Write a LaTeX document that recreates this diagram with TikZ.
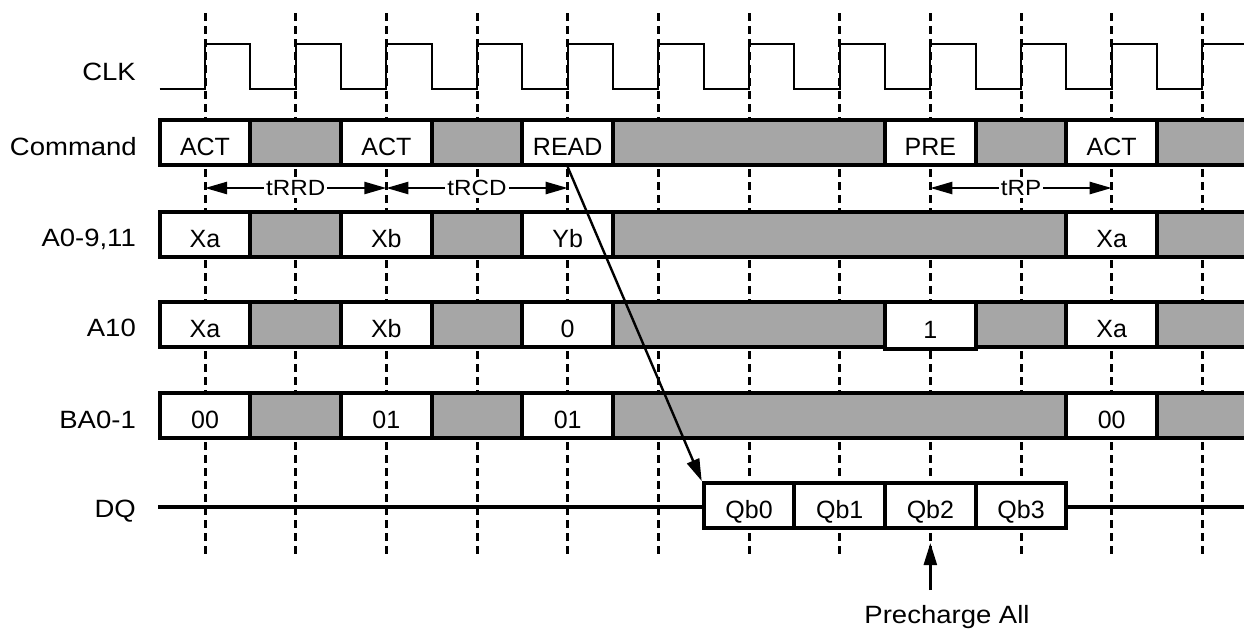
\documentclass[tikz,border=0pt]{standalone}
\usepackage{fontspec}
\setmainfont{Liberation Sans}
\newfontfamily\widefont{Liberation Sans}[FakeStretch=1.1]
\usetikzlibrary{arrows.meta}
\definecolor{cellgray}{RGB}{166,166,166}
\begin{document}
\begin{tikzpicture}[x=1pt,y=-1pt,
  gridline/.style={line width=3pt, dash pattern=on 8pt off 5pt},
  clkline/.style={line width=2pt},
  dqline/.style={line width=3.2pt},
  cellbox/.style={draw=black, line width=4pt, minimum height=45pt, inner sep=0pt,
    font=\fontsize{25}{30}\selectfont, text height=27pt, text depth=1pt},
  sig/.style={inner sep=0pt, anchor=base east, font=\widefont\fontsize{25}{30}\selectfont},
  dimarrow/.style={line width=2.4pt, {Triangle[length=22pt,width=12pt]}-{Triangle[length=22pt,width=12pt]}},
  dimlabel/.style={fill=white, inner sep=2pt, font=\widefont\fontsize{22}{26}\selectfont},
  cmdarrow/.style={line width=2.4pt, -{Triangle[length=22pt,width=13pt]}}
]
\useasboundingbox (0,0) rectangle (1244,630);

% clock-edge grid
\foreach \i in {0,...,11}
  \draw[gridline] (205+90.67*\i,13) -- (205+90.67*\i,556);

% clock waveform
\draw[clkline] (159.67,89)
  \foreach \i in {0,...,11}{ -- (205+90.67*\i,89) -- (205+90.67*\i,44)
     -- (250.33+90.67*\i,44) -- (250.33+90.67*\i,89) };

% DQ line
\coordinate (dqa) at (158,507);
\coordinate (dqb) at (1252,507);
\draw[dqline] (dqa) -- (dqb);

% signal labels
\node[sig] (lclk) at (136,80) {CLK};
\node[sig] (lcmd) at (137,155) {Command};
\node[sig] (ladr) at (136,246.5) {A0-9,11};
\node[sig] (la10) at (136,336.5) {A10};
\node[sig] (lba)  at (136,428) {BA0-1};
\node[sig] (ldq)  at (136,517) {DQ};

% Command row
\foreach \a/\b/\t/\f/\n in {0/1/ACT/white/cmdA, 1/2//cellgray/cmdB, 2/3/ACT/white/cmdC,
   3/4//cellgray/cmdD, 4/5/READ/white/read, 5/8//cellgray/cmdF, 8/9/PRE/white/cmdG,
   9/10//cellgray/cmdH, 10/11/ACT/white/cmdI, 11/12//cellgray/cmdJ}{
  \pgfmathsetmacro\cx{159.67+90.67*(\a+\b)/2}
  \pgfmathsetmacro\w{90.67*(\b-\a)}
  \node[cellbox, fill=\f, minimum width=\w pt] (\n) at (\cx,142.5) {\t};
}
% A0-9,11 row
\foreach \a/\b/\t/\f/\n in {0/1/Xa/white/adrA, 1/2//cellgray/adrB, 2/3/Xb/white/adrC,
   3/4//cellgray/adrD, 4/5/Yb/white/adrE, 5/10//cellgray/adrF,
   10/11/Xa/white/adrG, 11/12//cellgray/adrH}{
  \pgfmathsetmacro\cx{159.67+90.67*(\a+\b)/2}
  \pgfmathsetmacro\w{90.67*(\b-\a)}
  \node[cellbox, fill=\f, minimum width=\w pt] (\n) at (\cx,234.5) {\t};
}
% A10 row
\foreach \a/\b/\t/\f/\n in {0/1/Xa/white/tenA, 1/2//cellgray/tenB, 2/3/Xb/white/tenC,
   3/4//cellgray/tenD, 4/5/0/white/tenE, 5/8//cellgray/tenF,
   9/10//cellgray/tenH, 10/11/Xa/white/tenI, 11/12//cellgray/tenJ}{
  \pgfmathsetmacro\cx{159.67+90.67*(\a+\b)/2}
  \pgfmathsetmacro\w{90.67*(\b-\a)}
  \node[cellbox, fill=\f, minimum width=\w pt] (\n) at (\cx,324.5) {\t};
}
\node[cellbox, fill=white, minimum width=90.67pt, minimum height=47pt] (tenG) at (930.34,325.5) {1};
% BA0-1 row
\foreach \a/\b/\t/\f/\n in {0/1/00/white/baA, 1/2//cellgray/baB, 2/3/01/white/baC,
   3/4//cellgray/baD, 4/5/01/white/baE, 5/10//cellgray/baF,
   10/11/00/white/baG, 11/12//cellgray/baH}{
  \pgfmathsetmacro\cx{159.67+90.67*(\a+\b)/2}
  \pgfmathsetmacro\w{90.67*(\b-\a)}
  \node[cellbox, fill=\f, minimum width=\w pt] (\n) at (\cx,415) {\t};
}
% DQ burst
\foreach \a/\t/\n in {6/Qb0/qb0, 7/Qb1/qb1, 8/Qb2/qb2, 9/Qb3/qb3}{
  \pgfmathsetmacro\cx{159.67+90.67*(\a+0.5)}
  \node[cellbox, fill=white, minimum width=90.67pt] (\n) at (\cx,505.5) {\t};
}

% timing parameters
\coordinate (t0) at (205,188);
\coordinate (t2) at (386.34,188);
\coordinate (t4) at (567.68,188);
\coordinate (t8) at (930.36,188);
\coordinate (t10) at (1111.7,188);
\draw[dimarrow] (t0) -- node[dimlabel] (trrd) {tRRD} (t2);
\draw[dimarrow] (t2) -- node[dimlabel] (trcd) {tRCD} (t4);
\draw[dimarrow] (t8) -- node[dimlabel] (trp) {tRP} (t10);

% READ -> data
\draw[cmdarrow] (read.south) -- (qb0.north west);

% Precharge All
\node[inner sep=0pt, anchor=base, font=\widefont\fontsize{25}{30}\selectfont] (pall) at (947,623) {Precharge All};
\coordinate (pcbot) at (930.34,590);
\coordinate (pctop) at (930.34,543);
\draw[cmdarrow] (pcbot) -- (pctop);
\end{tikzpicture}
\end{document}
